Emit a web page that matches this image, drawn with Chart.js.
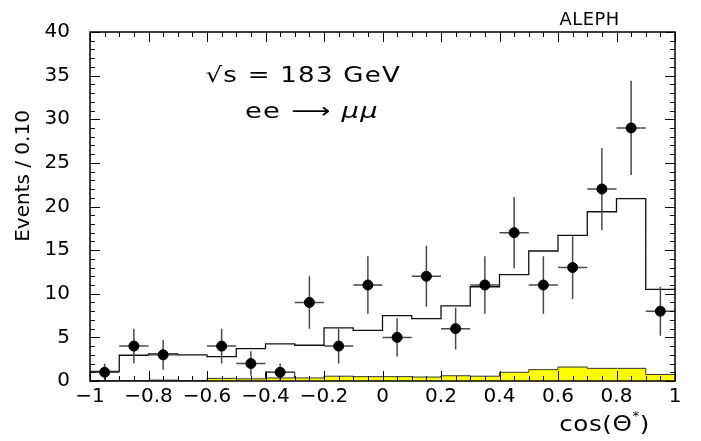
<!DOCTYPE html>
<html>
<head>
<meta charset="utf-8">
<script src="https://cdn.jsdelivr.net/npm/chart.js@4.4.1/dist/chart.umd.min.js"></script>
<style>
  html, body { margin: 0; padding: 0; background: #fff; }
  #wrap { width: 701px; height: 441px; position: relative; }
</style>
</head>
<body>
<div id="wrap"><canvas id="c"></canvas></div>
<script>
// bin edges of cos(theta*) histogram, 0.1 wide
const binEdges = [-1.0, -0.9, -0.8, -0.7, -0.6, -0.5, -0.4, -0.3, -0.2, -0.1, 0.0,
                  0.1, 0.2, 0.3, 0.4, 0.5, 0.6, 0.7, 0.8, 0.9, 1.0];
// expected total (open histogram)
const mcTotal = [1.1, 2.95, 3.1, 3.0, 2.8, 3.7, 4.25, 4.1, 6.1, 5.8,
                 7.5, 7.15, 8.6, 10.8, 12.2, 14.9, 16.7, 19.4, 20.9, 10.5];
// background (yellow)
const background = [0, 0, 0.1, 0, 0.3, 0.25, 0.35, 0.35, 0.55, 0.5,
                    0.5, 0.45, 0.6, 0.55, 1.0, 1.3, 1.6, 1.45, 1.45, 0.75];
// small extra outline histogram
const otherBkg = [0, 0, 0, 0, 0, 0, 1.0, 0, 0, 0,
                  0, 0, 0, 0, 0, 0, 0, 0, 0, 0];
// data points
const binCenters = [-0.95, -0.85, -0.75, -0.65, -0.55, -0.45, -0.35, -0.25, -0.15, -0.05,
                    0.05, 0.15, 0.25, 0.35, 0.45, 0.55, 0.65, 0.75, 0.85, 0.95];
const counts = [1, 4, 3, null, 4, 2, 1, 9, 4, 11,
                5, 12, 6, 11, 17, 11, 13, 22, 29, 8];
const errors = [1.0, 2.0, 1.7, null, 2.0, 1.4, 1.0, 3.0, 2.0, 3.3,
                2.2, 3.5, 2.4, 3.3, 4.1, 3.3, 3.6, 4.7, 5.4, 2.8];
const halfWidth = 0.05;

const xTicks = [-1, -0.8, -0.6, -0.4, -0.2, 0, 0.2, 0.4, 0.6, 0.8, 1];
const yTicks = [0, 5, 10, 15, 20, 25, 30, 35, 40];

const FONT = "'DejaVu Sans', sans-serif";

// value i holds on [edge i, edge i+1]; extra point closes the last bin
function stepData(vals) {
    const pts = vals.map((v, i) => ({ x: binEdges[i], y: v }));
    pts.push({ x: binEdges[binEdges.length - 1], y: vals[vals.length - 1] });
    return pts;
}

function fmt(v) {
    const r = Math.round(v * 10) / 10;
    if (r === 0) return "0";
    return (r < 0 ? "\u2212" : "") + String(Math.abs(r));
}

// wide PAW-like lettering: draw text stretched horizontally
function wideText(ctx, parts, x, y, sx) {
    ctx.save();
    ctx.translate(x, y);
    ctx.scale(sx, 1);
    let off = 0;
    for (const p of parts) {
        ctx.font = p.font;
        ctx.fillText(p.text, off, p.dy || 0);
        off += ctx.measureText(p.text).width;
    }
    ctx.restore();
}

// frame + inward ticks like PAW
const framePlugin = {
    id: "frame",
    afterDraw(chart) {
        const { ctx, chartArea: a } = chart;
        const xs = chart.scales.x, ys = chart.scales.y;
        ctx.save();
        ctx.strokeStyle = "#000";
        ctx.lineWidth = 1.5;
        ctx.strokeRect(a.left, a.top, a.right - a.left, a.bottom - a.top);
        ctx.lineWidth = 1;
        ctx.beginPath();
        for (let k = 0; k <= 40; k++) {
            const v = -1 + k * 0.05;
            const px = Math.round(xs.getPixelForValue(v)) + 0.5;
            const len = k % 4 === 0 ? 10 : 5;
            ctx.moveTo(px, a.bottom); ctx.lineTo(px, a.bottom - len);
            ctx.moveTo(px, a.top); ctx.lineTo(px, a.top + len);
        }
        for (let v = 0; v <= 40; v++) {
            const py = Math.round(ys.getPixelForValue(v)) + 0.5;
            const len = v % 5 === 0 ? 10 : 5;
            ctx.moveTo(a.left, py); ctx.lineTo(a.left + len, py);
            ctx.moveTo(a.right, py); ctx.lineTo(a.right - len, py);
        }
        ctx.stroke();

        // texts
        ctx.fillStyle = "#000";
        ctx.textBaseline = "middle";
        ctx.textAlign = "left";
        ctx.letterSpacing = "0.5px";
        wideText(ctx, [{ text: "ALEPH", font: "17px " + FONT }],
            xs.getPixelForValue(0.605), a.top - 11, 1.05);

        ctx.letterSpacing = "1px";
        wideText(ctx, [{ text: "\u221As = 183 GeV", font: "21px " + FONT }],
            xs.getPixelForValue(-0.605), ys.getPixelForValue(34.9), 1.24);
        wideText(ctx, [
            { text: "ee \u27F6 ", font: "21px " + FONT },
            { text: "\u03BC\u03BC", font: "italic 21px " + FONT },
        ], xs.getPixelForValue(-0.47), ys.getPixelForValue(30.8), 1.3);

        // x title: cos(Θ*) with raised star
        ctx.letterSpacing = "0.5px";
        wideText(ctx, [
            { text: "cos(\u0398", font: "22px " + FONT },
            { text: "*", font: "12px " + FONT, dy: -8 },
            { text: ")", font: "22px " + FONT },
        ], a.left + (a.right - a.left) * 0.802, a.bottom + 44, 1.12);
        ctx.letterSpacing = "0px";

        ctx.font = "20px " + FONT;
        ctx.save();
        ctx.translate(24, ys.getPixelForValue(23.5));
        ctx.rotate(-Math.PI / 2);
        ctx.textAlign = "center";
        ctx.fillText("Events / 0.10", 0, 0);
        ctx.restore();
        ctx.restore();
    }
};

// error bars drawn after the histograms, before the points
const errorBarPlugin = {
    id: "errorBars",
    afterDatasetDraw(chart, args) {
        if (args.index !== 1) return;
        const { ctx } = chart;
        const xs = chart.scales.x, ys = chart.scales.y;
        ctx.save();
        ctx.strokeStyle = "#4a4a4a";
        ctx.lineWidth = 1.5;
        ctx.beginPath();
        for (let i = 0; i < counts.length; i++) {
            if (counts[i] === null) continue;
            const px = xs.getPixelForValue(binCenters[i]);
            const py = ys.getPixelForValue(counts[i]);
            ctx.moveTo(px, ys.getPixelForValue(counts[i] + errors[i]));
            ctx.lineTo(px, ys.getPixelForValue(Math.max(0, counts[i] - errors[i])));
            ctx.moveTo(xs.getPixelForValue(binCenters[i] - halfWidth), py);
            ctx.lineTo(xs.getPixelForValue(binCenters[i] + halfWidth), py);
        }
        ctx.stroke();
        ctx.restore();
    }
};

new Chart(document.getElementById("c"), {
    type: "scatter",
    data: {
        datasets: [
            {
                label: "Data",
                data: binCenters.map((x, i) => ({ x, y: counts[i] })).filter(p => p.y !== null),
                backgroundColor: "#000",
                borderColor: "#000",
                pointRadius: 5,
                pointHoverRadius: 5,
            },
            {
                label: "MC",
                type: "line",
                data: stepData(mcTotal),
                stepped: "before",
                borderColor: "#111",
                borderWidth: 1.3,
                pointRadius: 0,
                fill: false,
            },
            {
                label: "Background",
                type: "line",
                data: stepData(background),
                stepped: "before",
                borderColor: "#333",
                borderWidth: 1,
                backgroundColor: "#ffff00",
                pointRadius: 0,
                fill: "origin",
            },
            {
                label: "Other",
                type: "line",
                data: stepData(otherBkg),
                stepped: "before",
                borderColor: "#111",
                borderWidth: 1,
                pointRadius: 0,
                fill: false,
            },
        ],
    },
    plugins: [errorBarPlugin, framePlugin],
    options: {
        responsive: true,
        maintainAspectRatio: false,
        animation: false,
        layout: { padding: { top: 24, right: 26, left: 0, bottom: 0 } },
        plugins: {
            legend: { display: false },
            tooltip: { enabled: false },
        },
        scales: {
            x: {
                type: "linear",
                min: -1,
                max: 1,
                afterFit: (s) => { s.height = 60; },
                afterBuildTicks: (s) => { s.ticks = xTicks.map(v => ({ value: v })); },
                grid: { display: false, drawTicks: false },
                border: { display: false },
                ticks: {
                    padding: 4,
                    color: "#000",
                    font: { family: FONT, size: 20 },
                    maxRotation: 0,
                    autoSkip: false,
                    callback: (v) => fmt(v),
                },
            },
            y: {
                type: "linear",
                min: 0,
                max: 40,
                afterFit: (s) => { s.width = 90; },
                afterBuildTicks: (s) => { s.ticks = yTicks.map(v => ({ value: v })); },
                grid: { display: false, drawTicks: false },
                border: { display: false },
                ticks: {
                    padding: 20,
                    color: "#000",
                    font: { family: FONT, size: 20 },
                    callback: (v) => String(v),
                },
            },
        },
    },
});
</script>
</body>
</html>
